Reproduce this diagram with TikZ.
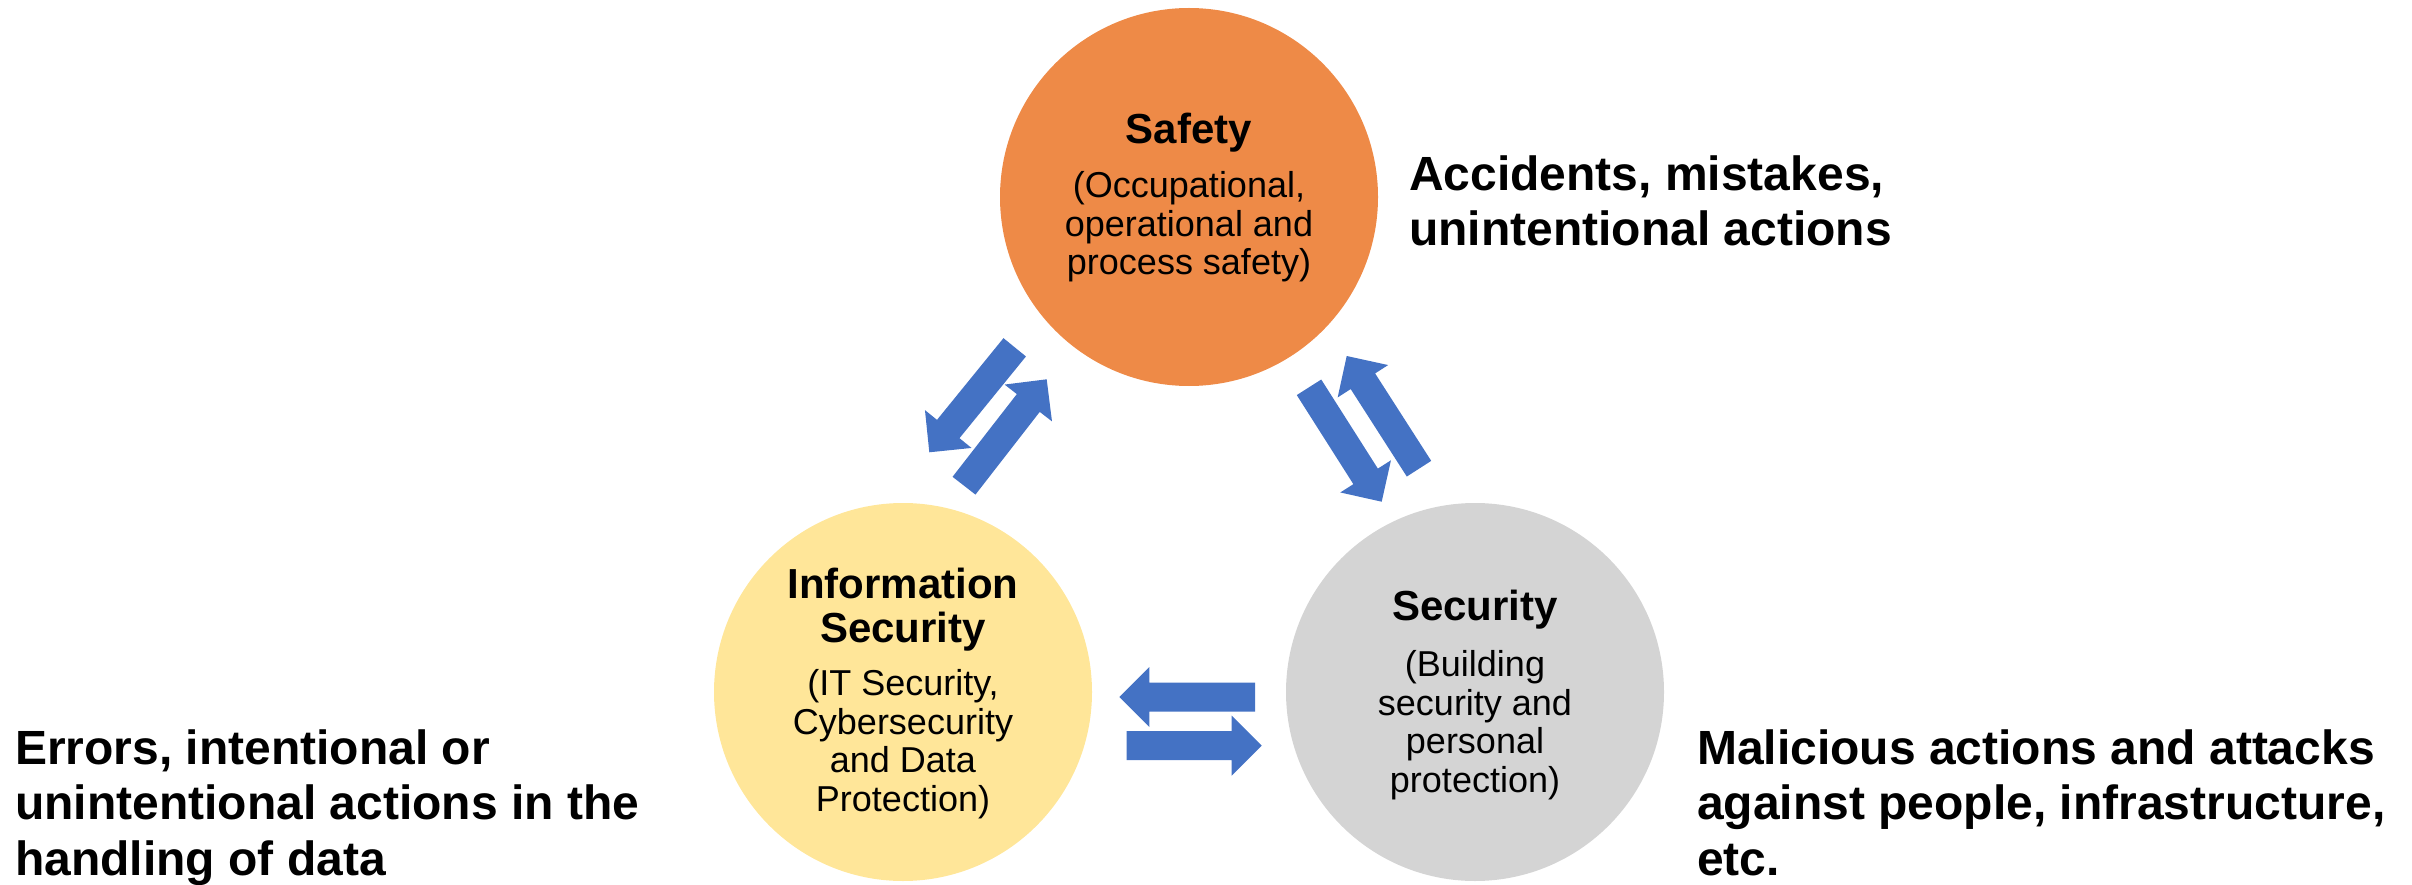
\documentclass[tikz,border=0pt]{standalone}
\usepackage{fontspec}
\setmainfont{Liberation Sans}
\usetikzlibrary{calc}
\definecolor{safetyorange}{HTML}{EE8A47}
\definecolor{infoyellow}{HTML}{FFE699}
\definecolor{secgray}{HTML}{D4D4D4}
\definecolor{arrowblue}{HTML}{4472C4}
\newcommand{\blkarrow}[2]{%
  \fill[arrowblue]
    ($(#1)!14.5pt!90:(#2)$) --
    ($($(#2)!30pt!(#1)$)!14.5pt!-90:(#1)$) --
    ($($(#2)!30pt!(#1)$)!30pt!-90:(#1)$) --
    (#2) --
    ($($(#2)!30pt!(#1)$)!30pt!90:(#1)$) --
    ($($(#2)!30pt!(#1)$)!14.5pt!90:(#1)$) --
    ($(#1)!14.5pt!-90:(#2)$) -- cycle;}
\begin{document}
\begin{tikzpicture}[x=1pt,y=-1pt,
  bubble/.style={circle,inner sep=0pt,minimum size=378pt},
  titletext/.style={anchor=base,inner sep=0pt,align=center,font=\fontsize{42}{44}\selectfont\bfseries},
  subtext/.style={anchor=base,inner sep=0pt,align=center,font=\fontsize{36}{38.5}\selectfont},
  sidetext/.style={anchor=base west,inner sep=0pt,align=left,font=\fontsize{48}{55.5}\selectfont\bfseries}]
\useasboundingbox (0,0) rectangle (2412,885);
% circles
\node[bubble,fill=safetyorange] (safety) at (1189,197) {};
\node[bubble,fill=infoyellow] (info) at (903,692) {};
\node[bubble,fill=secgray] (security) at (1475,692) {};
% circle texts (y = baseline of the last line)
\node[titletext] (safetytitle) at (1189,144) {Safety};
\node[subtext] (safetysub) at (1189,275) {(Occupational,\\operational and\\process safety)};
\node[titletext] (infotitle) at (903,642) {Information\\Security};
\node[subtext] (infosub) at (903,811) {(IT Security,\\Cybersecurity\\and Data\\Protection)};
\node[titletext] (sectitle) at (1475,620) {Security};
\node[subtext] (secsub) at (1475,792) {(Building\\security and\\personal\\protection)};
% side texts
\node[sidetext] (acc) at (1409,246) {Accidents, mistakes,\\unintentional actions};
\node[sidetext] (err) at (15,875) {Errors, intentional or\\unintentional actions in the\\handling of data};
\node[sidetext] (mal) at (1697,875) {Malicious actions and attacks\\against people, infrastructure,\\etc.};
% arrow end points
\coordinate (a1t) at (1014.7,347.3);
\coordinate (a1h) at (929.3,452.3);
\coordinate (a2t) at (964,485.7);
\coordinate (a2h) at (1046.7,379.3);
\coordinate (b1t) at (1309,387.3);
\coordinate (b1h) at (1381.7,501.7);
\coordinate (b2t) at (1419,468.7);
\coordinate (b2h) at (1346.7,356);
\coordinate (c1t) at (1255,697);
\coordinate (c1h) at (1119.3,697);
\coordinate (c2t) at (1126.7,745.7);
\coordinate (c2h) at (1261.7,745.7);
\blkarrow{a1t}{a1h}
\blkarrow{a2t}{a2h}
\blkarrow{b1t}{b1h}
\blkarrow{b2t}{b2h}
\blkarrow{c1t}{c1h}
\blkarrow{c2t}{c2h}
\end{tikzpicture}
\end{document}
